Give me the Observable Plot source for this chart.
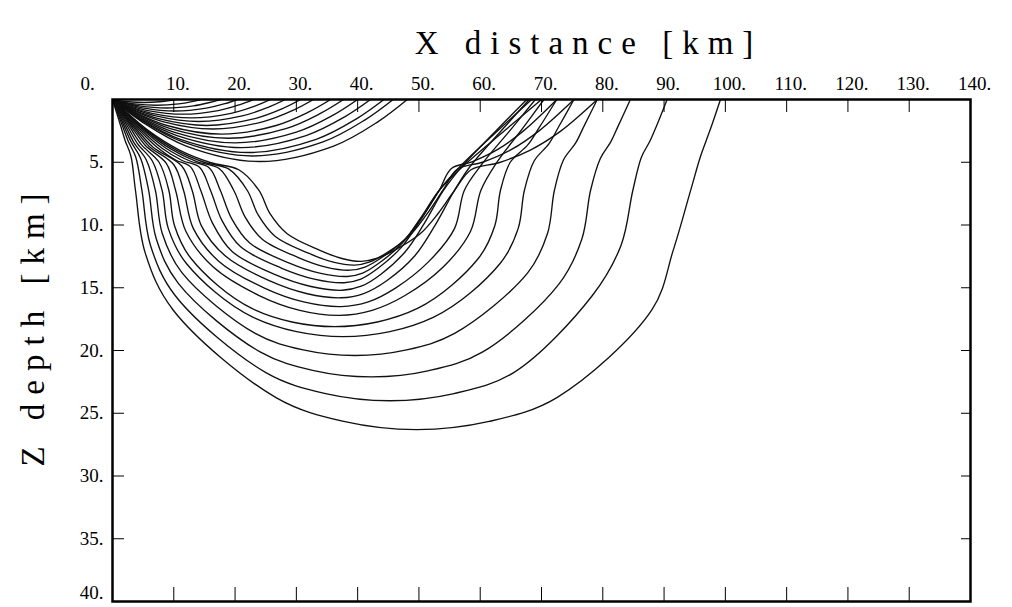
<!DOCTYPE html>
<html><head><meta charset="utf-8">
<script src="https://cdn.jsdelivr.net/npm/d3@7"></script>
<script src="https://cdn.jsdelivr.net/npm/@observablehq/plot@0.6"></script>
<style>html,body{margin:0;padding:0;background:#fff}svg{display:block}</style>
</head><body><div id="chart"></div>
<script>
const xTicks = [0,10,20,30,40,50,60,70,80,90,100,110,120,130,140];
const zTicks = [5,10,15,20,25,30,35,40];
const xTitle = "X distance [km]";
const zTitle = "Z depth [km]";

// shallow rays turning above the low-velocity layer: [x km, z km]
const shallowRays = [
  [[0,0],[1.03,0.09],[2.58,0.18],[5.15,0.24],[7.73,0.18],[9.27,0.09],[10.3,0]],
  [[0,0],[1.44,0.17],[3.6,0.35],[7.2,0.46],[10.8,0.35],[12.96,0.17],[14.4,0]],
  [[0,0],[1.76,0.24],[4.4,0.51],[8.8,0.68],[13.2,0.51],[15.84,0.24],[17.6,0]],
  [[0,0],[2.04,0.33],[5.1,0.69],[10.2,0.92],[15.3,0.69],[18.36,0.33],[20.4,0]],
  [[0,0],[2.3,0.42],[5.75,0.88],[11.5,1.17],[17.25,0.88],[20.7,0.42],[23,0]],
  [[0,0],[2.58,0.53],[6.45,1.1],[12.9,1.46],[19.35,1.1],[23.22,0.53],[25.8,0]],
  [[0,0],[2.82,0.63],[7.05,1.31],[14.1,1.75],[21.15,1.31],[25.38,0.63],[28.2,0]],
  [[0,0],[3.07,0.75],[7.68,1.55],[15.35,2.07],[23.03,1.55],[27.63,0.75],[30.7,0]],
  [[0,0],[3.28,0.85],[8.2,1.76],[16.4,2.35],[24.6,1.76],[29.52,0.85],[32.8,0]],
  [[0,0],[3.56,0.99],[8.9,2.07],[17.8,2.76],[26.7,2.07],[32.04,0.99],[35.6,0]],
  [[0,0],[3.77,1.11],[9.43,2.32],[18.85,3.09],[28.28,2.32],[33.93,1.11],[37.7,0]],
  [[0,0],[4.0,1.25],[10,2.6],[20,3.46],[30,2.6],[36,1.25],[40,0]],
  [[0,0],[4.21,1.38],[10.53,2.87],[21.05,3.83],[31.58,2.87],[37.89,1.38],[42.1,0]],
  [[0,0],[4.43,1.52],[11.08,3.17],[22.15,4.22],[33.23,3.17],[39.87,1.52],[44.3,0]],
  [[0,0],[4.58,1.62],[11.45,3.38],[22.9,4.5],[34.35,3.38],[41.22,1.62],[45.8,0]],
  [[0,0],[4.81,1.78],[12.03,3.71],[24.05,4.94],[36.08,3.71],[43.29,1.78],[48.1,0]]
];

// deep rays refracted into the low-velocity layer: [x km, z km]
const deepRays = [
  [[0,0],[5.97,2.52],[10.92,4.03],[16.07,5.04],[20.6,5.6],[23.9,7.25],[25.7,9.1],[28.5,10.7],[33.75,12.0],[37.43,12.67],[40.55,12.9],[43.07,12.67],[46.05,12.0],[50.2,10.7],[53.1,9.1],[55.8,7.25],[58.5,5.6],[63.03,5.04],[68.18,4.03],[73.13,2.52],[79.1,0]],
  [[0,0],[5.7,2.5],[10.26,4.0],[14.92,5.0],[19.0,5.55],[22.0,7.25],[23.77,9.2],[26.51,10.89],[31.98,12.25],[36.02,12.96],[39.5,13.2],[41.88,12.96],[44.62,12.25],[48.4,10.89],[51.2,9.2],[53.9,7.25],[56.3,5.55],[60.38,5.0],[65.04,4.0],[69.6,2.5],[75.3,0]],
  [[0,0],[5.39,2.48],[9.57,3.96],[13.75,4.95],[17.4,5.5],[19.8,7.25],[21.6,9.33],[24.44,11.13],[30.32,12.59],[34.81,13.35],[38.75,13.6],[41.19,13.35],[43.94,12.59],[47.7,11.13],[50.6,9.33],[53.3,7.25],[55.3,5.5],[58.75,4.95],[62.93,3.96],[67.11,2.48],[72.5,0]],
  [[0,0],[5.06,2.45],[8.85,3.92],[12.64,4.9],[15.8,5.45],[17.6,7.25],[19.44,9.49],[22.4,11.44],[28.76,13.01],[33.81,13.83],[38.3,14.1],[40.81,13.83],[43.56,13.01],[47.3,11.44],[50.2,9.49],[53.3,7.25],[56.9,5.45],[64.05,2.45],[70.0,0]],
  [[0,0],[4.69,2.43],[8.09,3.89],[11.36,4.86],[14.2,5.4],[16.0,7.25],[17.87,9.65],[20.91,11.74],[27.54,13.43],[32.92,14.31],[37.8,14.6],[40.52,14.31],[43.38,13.43],[47.2,11.74],[50.2,9.65],[53.3,7.25],[56.6,5.4],[62.99,2.43],[68.4,0]],
  [[0,0],[4.32,2.41],[7.37,3.85],[10.29,4.82],[12.7,5.35],[14.4,7.25],[16.32,9.85],[19.52,12.11],[26.45,13.94],[32.2,14.88],[37.5,15.2],[40.58,14.88],[43.75,13.94],[47.8,12.11],[50.9,9.85],[54.0,7.25],[57.0,5.35],[62.74,2.41],[67.6,0]],
  [[0,0],[3.96,2.39],[6.67,3.82],[11.3,5.3],[13.0,7.25],[14.49,10.05],[18.42,12.47],[25.58,14.44],[31.63,15.46],[37.3,15.8],[40.99,15.46],[44.74,14.44],[49.3,12.47],[52.6,10.05],[55.8,7.25],[58.4,5.3],[63.61,2.39],[68.0,0]],
  [[0,0],[3.6,2.34],[6.0,3.74],[10.0,5.2],[11.6,7.25],[13.18,10.27],[17.37,12.9],[24.79,15.03],[31.19,16.13],[37.3,16.5],[41.73,16.13],[46.17,15.03],[51.63,12.9],[55.82,10.27],[57.4,7.25],[60.2,5.2],[65.08,2.34],[69.0,0]],
  [[0,0],[3.26,2.3],[5.37,3.67],[8.8,5.1],[10.3,7.25],[11.97,10.5],[16.4,13.33],[23.93,15.62],[30.56,16.8],[37.0,17.2],[42.36,16.8],[47.73,15.62],[54.0,13.33],[58.43,10.5],[60.1,7.25],[62.58,5.1],[66.92,2.3],[70.4,0]],
  [[0,0],[2.89,2.25],[4.71,3.6],[7.6,5.0],[9.2,7.25],[10.12,10.06],[12.82,12.67],[22.73,16.65],[36.25,18.1],[49.77,16.65],[59.68,12.67],[62.38,10.06],[63.3,7.25],[64.9,5.0],[67.79,3.6],[69.61,2.25],[72.5,0]],
  [[0,0],[2.54,2.21],[4.1,3.53],[6.5,4.9],[8.1,7.25],[9.1,10.27],[12.06,13.07],[22.88,17.34],[37.65,18.9],[52.42,17.34],[63.24,13.07],[66.2,10.27],[67.2,7.25],[68.8,4.9],[71.2,3.53],[72.76,2.21],[75.3,0]],
  [[0,0],[2.2,2.16],[3.52,3.46],[5.5,4.8],[7.0,7.25],[8.11,10.66],[11.36,13.82],[23.28,18.64],[31.12,19.95],[39.55,20.4],[47.98,19.95],[55.82,18.64],[67.74,13.82],[70.99,10.66],[72.1,7.25],[73.6,4.8],[75.58,3.46],[76.9,2.16],[79.1,0]],
  [[0,0],[1.89,2.12],[3.04,3.38],[4.6,4.7],[5.9,7.25],[7.14,11.1],[10.77,14.67],[24.08,20.11],[32.84,21.6],[42.25,22.1],[51.66,21.6],[60.42,20.11],[72.9,14.67],[76.6,11.1],[78.0,7.25],[79.6,4.7],[81.3,3.38],[82.5,2.12],[84.5,0]],
  [[0,0],[1.6,2.07],[2.55,3.31],[3.8,4.6],[4.8,7.25],[6.18,11.59],[10.22,15.62],[25.03,21.76],[34.77,23.43],[45.25,24.0],[55.73,23.43],[65.47,21.76],[78.3,15.62],[83.0,11.59],[84.9,7.25],[86.3,4.6],[87.7,3.31],[88.8,2.07],[90.5,0]],
  [[0,0],[1.29,2.03],[2.04,3.24],[3.0,4.5],[3.75,7.25],[5.31,12.18],[9.89,16.77],[26.68,23.75],[37.73,25.65],[49.6,26.3],[61.47,25.65],[72.52,23.75],[88.0,16.77],[91.5,12.0],[94.3,7.3],[95.9,4.6],[96.9,3.24],[97.8,2.03],[99.2,0]]
];

const rows = [];
shallowRays.forEach((pts, i) => pts.forEach(([dist, depth]) => rows.push({ray: "s" + i, dist, depth})));
deepRays.forEach((pts, i) => pts.forEach(([dist, depth]) => rows.push({ray: "d" + i, dist, depth})));

const serif = "'Liberation Serif','DejaVu Serif',serif";
const fmt = d => d + ".";
const blank = () => "";
const xLabelTicks = xTicks.filter(d => d > 0);
const xZeroTick = xTicks.filter(d => d === 0);
const zLastTick = zTicks.slice(-1);
const zLabelTicks = zTicks.slice(0, -1);

const chart = Plot.plot({
  width: 1012, height: 607,
  marginLeft: 112, marginRight: 42, marginTop: 99, marginBottom: 6,
  style: {background: "#fff", color: "#000", fontFamily: serif},
  x: {domain: [0, 140], label: null},
  y: {domain: [0, 40], reverse: true, label: null},
  marks: [
    Plot.line(rows, {x: "dist", y: "depth", z: "ray", curve: "catmull-rom", stroke: "#111", strokeWidth: 1.35, clip: true}),
    Plot.frame({stroke: "#000", strokeWidth: 2.5}),
    Plot.axisX({anchor: "top", ticks: xTicks, tickSize: 12, dy: 12, tickFormat: blank, label: null}),
    Plot.axisX({anchor: "bottom", ticks: xTicks, tickSize: 14, dy: -14, tickFormat: blank, label: null}),
    Plot.axisY({anchor: "left", ticks: zTicks, tickSize: 12, dx: 12, tickFormat: blank, label: null}),
    Plot.axisY({anchor: "right", ticks: zTicks, tickSize: 10, dx: -10, tickFormat: blank, label: null}),
    Plot.axisX({anchor: "top", ticks: xLabelTicks, tickSize: 0, tickPadding: 10, dx: 4, tickFormat: fmt, fontSize: 19, label: null}),
    Plot.axisX({anchor: "top", ticks: xZeroTick, tickSize: 0, tickPadding: 10, dx: -25, tickFormat: fmt, fontSize: 19, label: null}),
    Plot.axisY({anchor: "left", ticks: zLabelTicks, tickSize: 0, tickPadding: 9, tickFormat: fmt, fontSize: 19, label: null}),
    Plot.axisY({anchor: "left", ticks: zLastTick, tickSize: 0, tickPadding: 9, dy: -9, tickFormat: fmt, fontSize: 19, label: null}),
    Plot.text([xTitle], {frameAnchor: "top", text: d => d, textAnchor: "middle", dx: 47, dy: -69, fontSize: 33}),
    Plot.text([zTitle], {frameAnchor: "left", text: d => d, textAnchor: "middle", rotate: -90, dx: -79, dy: -25, fontSize: 33})
  ]
});
d3.select(chart).selectAll("text")
  .filter(function() { return this.textContent === xTitle || this.textContent === zTitle; })
  .attr("letter-spacing", 9);
document.getElementById("chart").appendChild(chart);
</script>
</body></html>
